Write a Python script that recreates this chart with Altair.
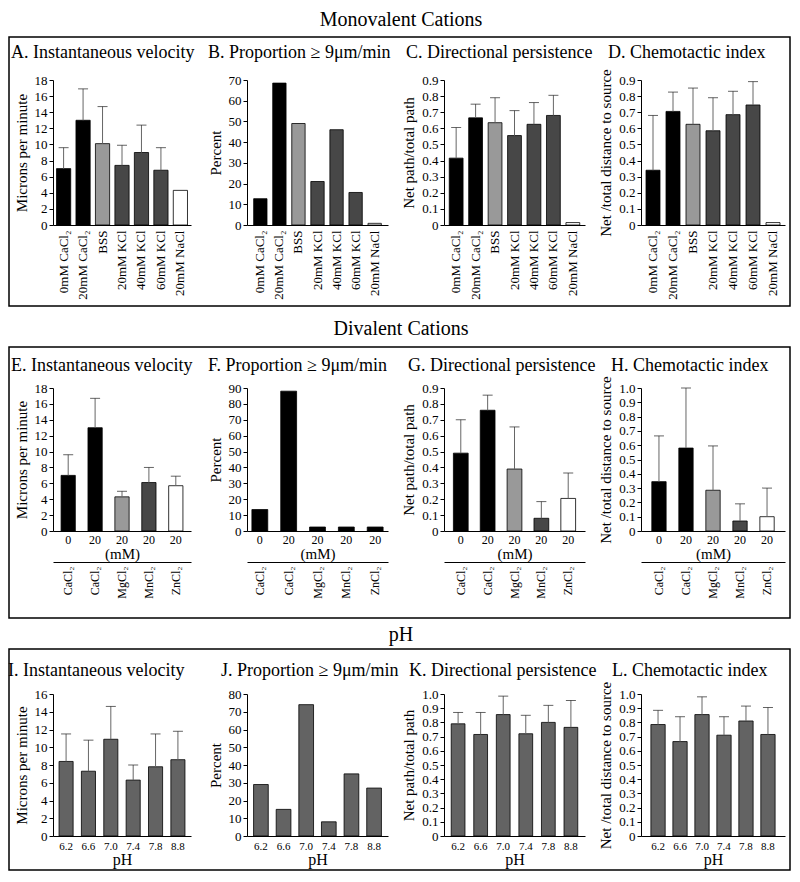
import altair as alt
import pandas as pd

FONT = "Liberation Serif"

# ---------------- data ----------------
# Monovalent cations
mono_cats = ["0mM CaCl₂", "20mM CaCl₂", "BSS", "20mM KCl", "40mM KCl", "60mM KCl", "20mM NaCl"]
mono_fill = ["#000000", "#000000", "#999999", "#474747", "#474747", "#474747", "#ffffff"]
velA = [7.0, 13.0, 10.1, 7.4, 9.0, 6.8, 4.3]
velA_err = [9.6, 16.9, 14.7, 9.9, 12.4, 9.6, None]
propB = [12.7, 68.5, 49.0, 21.0, 46.0, 15.7, 0.8]
persC = [0.415, 0.665, 0.635, 0.555, 0.625, 0.68, 0.015]
persC_err = [0.605, 0.75, 0.79, 0.71, 0.76, 0.805, None]
chemD = [0.34, 0.705, 0.625, 0.585, 0.685, 0.745, 0.015]
chemD_err = [0.68, 0.825, 0.85, 0.79, 0.83, 0.89, None]

# Divalent cations
div_conc = ["0", "20", "20", "20", "20"]
div_salt = ["CaCl₂", "CaCl₂", "MgCl₂", "MnCl₂", "ZnCl₂"]
div_fill = ["#000000", "#000000", "#999999", "#474747", "#ffffff"]
propF_fill = ["#000000", "#000000", "#000000", "#000000", "#000000"]
velE = [7.0, 13.0, 4.3, 6.1, 5.7]
velE_err = [9.6, 16.7, 5.0, 8.0, 6.9]
propF = [13.5, 88.0, 2.5, 2.5, 2.5]
persG = [0.49, 0.76, 0.39, 0.08, 0.205]
persG_err = [0.70, 0.855, 0.655, 0.185, 0.365]
chemH = [0.345, 0.58, 0.285, 0.07, 0.10]
chemH_err = [0.665, 1.0, 0.595, 0.19, 0.30]

# pH
ph_cats = ["6.2", "6.6", "7.0", "7.4", "7.8", "8.8"]
ph_fill = ["#636363"] * 6
velI = [8.4, 7.3, 10.9, 6.3, 7.8, 8.6]
velI_err = [11.5, 10.8, 14.6, 8.0, 11.5, 11.8]
propJ = [29.0, 15.0, 74.0, 8.0, 35.0, 27.0]
persK = [0.79, 0.715, 0.855, 0.72, 0.80, 0.765]
persK_err = [0.87, 0.87, 0.985, 0.85, 0.92, 0.955]
chemL = [0.785, 0.665, 0.855, 0.71, 0.81, 0.715]
chemL_err = [0.885, 0.84, 0.98, 0.84, 0.915, 0.905]

section_titles = ["Monovalent Cations", "Divalent Cations", "pH"]

div_keys = [f"{c} {s}" for c, s in zip(div_conc, div_salt)]

# ---------------- layout ----------------
COL_W = [138, 141, 141, 144]
ROW_H = [145, 143, 142]
COL_SP = 56
ROW_SP = 163
DEC_LABEL = "datum.value == 0 ? '0' : format(datum.value, '.1f')"


def ticks_for(maxv, step):
    n = int(round(maxv / step))
    return [round(i * step, 2) for i in range(n + 1)]


def panel(cats, values, fills, errs, ymax, ystep, decimal, ytitle, kind,
          width, height, pin, pout, title, tdx, tdy, section=None):
    df = pd.DataFrame({"key": cats, "value": values, "fill": fills})
    if errs is not None:
        df["upper"] = errs
    xscale = alt.Scale(domain=cats, paddingInner=pin, paddingOuter=pout)
    yscale = alt.Scale(domain=[0, ymax], nice=False, zero=True)
    yaxis_kw = dict(values=ticks_for(ymax, ystep), title=ytitle, tickSize=4,
                    labelPadding=2, titlePadding=5, labelFontSize=13,
                    titleFontSize=15)
    if decimal:
        yaxis_kw["labelExpr"] = DEC_LABEL
    yaxis = alt.Axis(**yaxis_kw)

    if kind == "mono":
        xaxis = alt.Axis(title=None, labelAngle=-90, ticks=False, labelPadding=5,
                         labelFontSize=13, labelOverlap=False)
    elif kind == "div":
        xaxis = alt.Axis(title="(mM)", orient="bottom", labelAngle=0, ticks=False,
                         labelPadding=3, labelFontSize=12, titleFontSize=15,
                         titlePadding=1, labelOverlap=False,
                         labelExpr="split(datum.value, ' ')[0]")
    else:
        xaxis = alt.Axis(title="pH", labelAngle=0, ticks=False, labelPadding=4,
                         labelFontSize=11, titleFontSize=16, titlePadding=0,
                         labelOverlap=False)

    # for the divalent panels the x axes are independent; extra layers draw none
    x_other = None if kind == "div" else xaxis

    def xenc(axis):
        if axis is None:
            return alt.X("key:N", scale=xscale, axis=None)
        return alt.X("key:N", scale=xscale, axis=axis)

    bars = alt.Chart(df).mark_bar(stroke="black", strokeWidth=0.8).encode(
        x=xenc(xaxis),
        y=alt.Y("value:Q", scale=yscale, axis=yaxis),
        fill=alt.Fill("fill:N", scale=None),
    )
    layers = [bars]

    if errs is not None:
        edf = df[df["upper"].notna()]
        rule = alt.Chart(edf).mark_rule(color="#666666", strokeWidth=1).encode(
            x=xenc(x_other),
            y=alt.Y("value:Q", scale=yscale, axis=yaxis),
            y2="upper:Q",
        )
        cap = alt.Chart(edf).mark_tick(color="#222222", thickness=1, size=10,
                                       orient="horizontal").encode(
            x=xenc(x_other),
            y=alt.Y("upper:Q", scale=yscale, axis=yaxis),
        )
        layers += [rule, cap]

    if kind == "div":
        axis2 = alt.Axis(orient="bottom", offset=31, title=None, labelAngle=-90,
                         ticks=False, labelPadding=4, labelFontSize=12,
                         labelOverlap=False,
                         labelExpr="split(datum.value, ' ')[1]")
        hidden = alt.Chart(df).mark_bar(opacity=0).encode(
            x=alt.X("key:N", scale=xscale, axis=axis2),
            y=alt.Y("value:Q", scale=yscale, axis=yaxis),
        )
        layers.append(hidden)

    tdf = pd.DataFrame({"t": [title]})
    ttl = alt.Chart(tdf).mark_text(font=FONT, fontSize=18, align="left",
                                   baseline="alphabetic", color="black").encode(
        text="t:N", x=alt.value(tdx), y=alt.value(tdy))
    layers.append(ttl)

    if section is not None:
        stext, sy, btop, bbot = section
        sdf = pd.DataFrame({"s": [stext]})
        st = alt.Chart(sdf).mark_text(font=FONT, fontSize=20, align="center",
                                      baseline="middle", color="black").encode(
            text="s:N", x=alt.value(348), y=alt.value(sy))
        box = alt.Chart(pd.DataFrame({"b": [0]})).mark_rect(
            fill="white", fillOpacity=0, stroke="black", strokeWidth=1.5).encode(
            x=alt.value(-44), x2=alt.value(737), y=alt.value(btop), y2=alt.value(bbot))
        layers = [box] + layers + [st]

    ch = alt.layer(*layers).properties(width=width, height=height)
    if kind == "div":
        ch = ch.resolve_axis(x="independent")
    return ch


VEL = "Microns per minute"
PCT = "Percent"
PER = "Net path/total path"
CHE = "Net /total distance to source"

panels = [
    # row 1
    panel(mono_cats, velA, mono_fill, velA_err, 18, 2, False, VEL, "mono",
          COL_W[0], ROW_H[0], 0.27, 0.18, "A. Instantaneous velocity", -42, -22,
          section=(section_titles[0], -60, -43, 226)),
    panel(mono_cats, propB, mono_fill, None, 70, 10, False, PCT, "mono",
          COL_W[1], ROW_H[0], 0.3, 0.35, "B. Proportion ≥ 9μm/min", -39, -22),
    panel(mono_cats, persC, mono_fill, persC_err, 0.9, 0.1, True, PER, "mono",
          COL_W[2], ROW_H[0], 0.29, 0.27, "C. Directional persistence", -38, -22),
    panel(mono_cats, chemD, mono_fill, chemD_err, 0.9, 0.1, True, CHE, "mono",
          COL_W[3], ROW_H[0], 0.3, 0.25, "D. Chemotactic index", -33, -22),
    # row 2
    panel(div_keys, velE, div_fill, velE_err, 18, 2, False, VEL, "div",
          COL_W[0], ROW_H[1], 0.47, 0.3, "E. Instantaneous velocity", -42, -17,
          section=(section_titles[1], -59, -41, 230)),
    panel(div_keys, propF, propF_fill, None, 90, 10, False, PCT, "div",
          COL_W[1], ROW_H[1], 0.45, 0.17, "F. Proportion ≥ 9μm/min", -39, -17),
    panel(div_keys, persG, div_fill, persG_err, 0.9, 0.1, True, PER, "div",
          COL_W[2], ROW_H[1], 0.45, 0.35, "G. Directional persistence", -36, -17),
    panel(div_keys, chemH, div_fill, chemH_err, 1.0, 0.1, True, CHE, "div",
          COL_W[3], ROW_H[1], 0.47, 0.4, "H. Chemotactic index", -30, -17),
    # row 3
    panel(ph_cats, velI, ph_fill, velI_err, 16, 2, False, VEL, "ph",
          COL_W[0], ROW_H[2], 0.37, 0.27, "I. Instantaneous velocity", -45, -18,
          section=(section_titles[2], -59, -45, 176)),
    panel(ph_cats, propJ, ph_fill, None, 80, 10, False, PCT, "ph",
          COL_W[1], ROW_H[2], 0.35, 0.29, "J. Proportion ≥ 9μm/min", -26, -18),
    panel(ph_cats, persK, ph_fill, persK_err, 1.0, 0.1, True, PER, "ph",
          COL_W[2], ROW_H[2], 0.39, 0.32, "K. Directional persistence", -35, -18),
    panel(ph_cats, chemL, ph_fill, chemL_err, 1.0, 0.1, True, CHE, "ph",
          COL_W[3], ROW_H[2], 0.35, 0.45, "L. Chemotactic index", -29, -18),
]

chart = alt.concat(
    *panels, columns=4, spacing={"row": ROW_SP, "column": COL_SP}, bounds="flush"
).properties(padding={"top": 2, "left": 0, "right": 0, "bottom": 0}).configure_view(
    strokeWidth=0
).configure_axis(
    labelFont=FONT, titleFont=FONT, labelColor="black", titleColor="black",
    domainColor="black", tickColor="black", grid=False, titleFontWeight="normal",
    domainWidth=1, tickWidth=1,
)

chart.save("out.html", embed_options={"renderer": "svg", "actions": False})
